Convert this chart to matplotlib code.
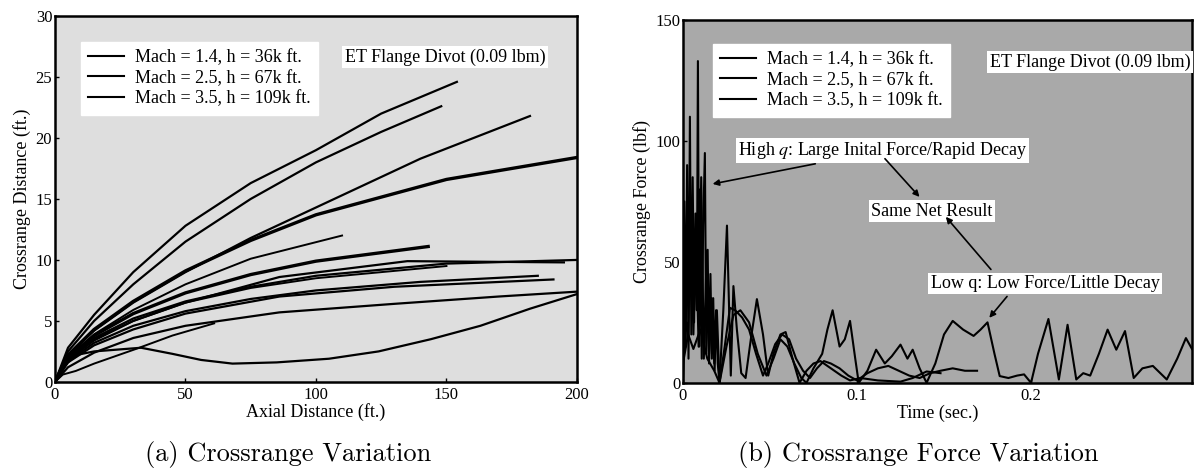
import matplotlib
matplotlib.use('Agg')
import matplotlib.pyplot as plt

# ---- panel (a): crossrange distance vs axial distance (ft.)
curves_x = [
    [0, 5, 15, 30, 50, 75, 100, 125, 154],
    [0, 5, 15, 30, 50, 75, 100, 125, 148],
    [0, 5, 15, 30, 50, 75, 100, 140, 182],
    [0, 5, 15, 30, 50, 75, 100, 150, 200],
    [0, 5, 15, 30, 50, 75, 110],
    [0, 5, 15, 30, 50, 75, 100, 143],
    [0, 5, 15, 30, 50, 75, 100, 150, 200],
    [0, 5, 15, 30, 50, 86, 135, 195],
    [0, 5, 15, 30, 50, 75, 100, 140, 185],
    [0, 5, 15, 30, 50, 86, 130, 191],
    [0, 5, 15, 30, 50, 75, 100, 150],
    [0, 5, 15, 30, 50, 86, 130, 170, 200],
    [0, 3, 8, 15, 31, 45, 61],
    [0, 3, 8, 15, 33, 45, 56, 68, 85, 105, 124, 144, 163, 182, 200],
]
curves_y = [
    [0, 2.8, 5.5, 9.0, 12.8, 16.3, 19.0, 22.0, 24.6],
    [0, 2.5, 5.0, 8.0, 11.5, 15.0, 18.0, 20.5, 22.6],
    [0, 2.2, 4.2, 6.5, 9.0, 11.8, 14.3, 18.3, 21.8],
    [0, 2.2, 4.3, 6.6, 9.1, 11.6, 13.7, 16.6, 18.4],
    [0, 2.0, 3.9, 5.9, 8.0, 10.1, 12.0],
    [0, 2.0, 3.8, 5.6, 7.3, 8.8, 9.9, 11.1],
    [0, 1.9, 3.6, 5.2, 6.6, 7.8, 8.7, 9.7, 10.0],
    [0, 1.8, 3.4, 5.0, 6.5, 8.6, 9.9, 9.8],
    [0, 1.7, 3.2, 4.6, 5.8, 6.8, 7.5, 8.2, 8.7],
    [0, 1.6, 3.0, 4.3, 5.6, 7.0, 7.8, 8.4],
    [0, 1.8, 3.5, 5.0, 6.5, 7.7, 8.5, 9.5],
    [0, 1.2, 2.4, 3.6, 4.6, 5.7, 6.4, 7.0, 7.4],
    [0, 0.6, 0.9, 1.5, 2.7, 3.8, 4.8],
    [0, 1.2, 2.2, 2.5, 2.8, 2.3, 1.8, 1.5, 1.6, 1.9, 2.5, 3.5, 4.6, 6.0, 7.2],
]
curves_lw = [1.6, 1.6, 1.6, 2.4, 1.4, 2.4, 1.6, 1.6, 1.6, 1.6, 1.4, 1.6, 1.4, 1.6]

# ---- panel (b): crossrange force (lbf) vs time (sec.)
t_high = [0.000, 0.0008, 0.0016, 0.0024, 0.0032, 0.004, 0.0048, 0.0056, 0.0064, 0.0072,
          0.008, 0.0086, 0.0093, 0.010, 0.0108, 0.0116, 0.0126, 0.0134, 0.0142, 0.015,
          0.0158, 0.0166, 0.0174, 0.0182, 0.019, 0.020, 0.021,
          0.0232, 0.0253, 0.0275, 0.029,
          0.031, 0.0335, 0.036, 0.039, 0.0425, 0.046, 0.049, 0.052, 0.056, 0.059,
          0.063, 0.067, 0.071, 0.075, 0.079, 0.083, 0.087, 0.091, 0.096, 0.102,
          0.112, 0.125, 0.132, 0.140, 0.148]
f_high = [0, 75, 15, 90, 10, 110, 20, 85, 25, 70,
          30, 133, 15, 80, 10, 65, 95, 12, 55, 8,
          45, 10, 35, 5, 30, 8, 0,
          30, 65, 3, 40,
          22, 4, 2, 18, 34.6, 20, 3, 12, 20, 21,
          10, 0, 5, 8, 9, 7, 5, 3, 1, 2,
          1, 0.5, 2, 4.7, 4]

t_mid = [0.000, 0.001, 0.002, 0.003, 0.0045, 0.006, 0.0075, 0.009, 0.0105, 0.012,
         0.0135, 0.015, 0.0165, 0.018, 0.0195, 0.021, 0.024, 0.027, 0.030,
         0.034, 0.038, 0.042, 0.046, 0.049, 0.053, 0.057, 0.061, 0.065, 0.069,
         0.073, 0.077, 0.081, 0.085, 0.090, 0.095, 0.100, 0.106, 0.112, 0.118,
         0.124, 0.130, 0.136, 0.142, 0.148, 0.155, 0.162, 0.169]
f_mid = [0, 20, 25, 18, 70, 20, 60, 15, 85, 10,
         50, 12, 35, 8, 30, 0, 15, 31, 30,
         27, 22, 12, 3, 8, 16, 20, 18, 10, 5,
         2, 6, 9, 8, 6, 3, 1, 4, 6, 7,
         5, 3, 2, 4, 5, 6, 5, 5]

t_low = [0.000, 0.003, 0.006, 0.010, 0.014, 0.018, 0.021, 0.025, 0.029, 0.033,
         0.038, 0.043, 0.048, 0.052, 0.056, 0.060, 0.064, 0.068, 0.071, 0.075,
         0.080, 0.083, 0.086, 0.090, 0.093, 0.096, 0.099, 0.101, 0.106, 0.111,
         0.116, 0.120, 0.125, 0.129, 0.132, 0.136, 0.140, 0.145, 0.150, 0.155,
         0.161, 0.167, 0.171, 0.175, 0.179, 0.182, 0.187, 0.192, 0.196, 0.200,
         0.204, 0.210, 0.216, 0.221, 0.226, 0.230, 0.234, 0.239, 0.244, 0.249,
         0.254, 0.259, 0.264, 0.270, 0.278, 0.284, 0.289, 0.2925]
f_low = [8, 20, 14, 22, 10, 5, 0, 15, 28, 30,
         25, 12, 3, 10, 18, 15, 8, 2, 0, 6,
         12, 22, 30, 15, 18, 25.6, 10, 0, 5, 13.7,
         8, 11, 15.8, 10, 13.7, 6, 0, 8, 20, 25.6,
         22, 19.4, 22, 25, 12, 2.8, 2, 3, 3.5, 0,
         12, 26.4, 1.4, 24, 1.4, 4, 3, 12, 22, 13.7,
         21.4, 2, 6, 7, 1.4, 10, 18.5, 14]

legend_labels = ['Mach = 1.4, h = 36k ft.', 'Mach = 2.5, h = 67k ft.', 'Mach = 3.5, h = 109k ft.']

plt.rcParams['font.family'] = 'Liberation Serif'
plt.rcParams['mathtext.fontset'] = 'stix'

fig = plt.figure(figsize=(11.95, 4.75), dpi=100)
ax_a = fig.add_axes([0.046, 0.196, 0.4368, 0.7703])
ax_b = fig.add_axes([0.5715, 0.194, 0.4260, 0.764])

leg_kw = dict(loc='upper left', fontsize=13, frameon=True, fancybox=False, edgecolor='white',
              framealpha=1, handlelength=2.0, handletextpad=0.6, labelspacing=0.2,
              borderaxespad=0.0, borderpad=0.4)

# panel (a)
ax_a.set_facecolor('#dedede')
for xs, ys, lw in zip(curves_x, curves_y, curves_lw):
    ax_a.plot(xs, ys, color='black', lw=lw)
ax_a.set_xlim(0, 200)
ax_a.set_ylim(0, 30)
ax_a.set_xticks([0, 50, 100, 150, 200])
ax_a.set_yticks([0, 5, 10, 15, 20, 25, 30])
ax_a.set_xlabel('Axial Distance (ft.)', fontsize=13, labelpad=0)
ax_a.set_ylabel('Crossrange Distance (ft.)', fontsize=13, labelpad=3)
handles = [plt.Line2D([], [], color='black', lw=1.5) for _ in legend_labels]
ax_a.legend(handles, legend_labels, bbox_to_anchor=(0.05, 0.929), **leg_kw)
ax_a.text(0.747, 0.888, 'ET Flange Divot (0.09 lbm)', transform=ax_a.transAxes, fontsize=13,
          ha='center', va='center', bbox=dict(facecolor='white', edgecolor='none', pad=2))

# panel (b)
ax_b.set_facecolor('#a9a9a9')
for ts, fs in [(t_high, f_high), (t_mid, f_mid), (t_low, f_low)]:
    ax_b.plot(ts, fs, color='black', lw=1.5)
ax_b.set_xlim(0, 0.2925)
ax_b.set_ylim(0, 150)
ax_b.set_xticks([0, 0.1, 0.2])
ax_b.set_xticklabels(['0', '0.1', '0.2'])
ax_b.set_yticks([0, 50, 100, 150])
ax_b.set_xlabel('Time (sec.)', fontsize=13, labelpad=0)
ax_b.set_ylabel('Crossrange Force (lbf)', fontsize=13, labelpad=3)
handles = [plt.Line2D([], [], color='black', lw=1.5) for _ in legend_labels]
ax_b.legend(handles, legend_labels, bbox_to_anchor=(0.059, 0.934), **leg_kw)
ax_b.text(0.80, 0.884, 'ET Flange Divot (0.09 lbm)', transform=ax_b.transAxes, fontsize=13,
          ha='center', va='center', bbox=dict(facecolor='white', edgecolor='none', pad=2))

box = dict(facecolor='white', edgecolor='none', pad=1.5)
arrow = dict(arrowstyle='-|>', color='black', lw=1.2, mutation_scale=9)
ax_b.annotate('High $q$: Large Inital Force/Rapid Decay', xy=(0.0155, 82), xytext=(0.0316, 96),
              fontsize=13, ha='left', va='center', bbox=box, arrowprops=arrow)
ax_b.annotate('', xy=(0.137, 76), xytext=(0.115, 93.5), arrowprops=arrow)
ax_b.text(0.143, 71, 'Same Net Result', fontsize=13, ha='center', va='center', bbox=box)
ax_b.annotate('', xy=(0.150, 69.5), xytext=(0.178, 46), arrowprops=arrow)
ax_b.annotate('Low q: Low Force/Little Decay', xy=(0.175, 26), xytext=(0.208, 41),
              fontsize=13, ha='center', va='center', bbox=box,
              arrowprops=dict(arrowstyle='-|>', color='black', lw=1.2, mutation_scale=9,
                              relpos=(0.35, 0.0)))

for ax in (ax_a, ax_b):
    for s in ax.spines.values():
        s.set_linewidth(1.8)
    ax.tick_params(direction='in', length=3, width=1, labelsize=12, pad=2)
    ax.tick_params(axis='x', pad=4)

fig.text(0.241, 0.03, '(a) Crossrange Variation', fontsize=19, family='cmr10', ha='center')
fig.text(0.768, 0.03, '(b) Crossrange Force Variation', fontsize=19, family='cmr10', ha='center')

fig.savefig('out.png', dpi=100)
